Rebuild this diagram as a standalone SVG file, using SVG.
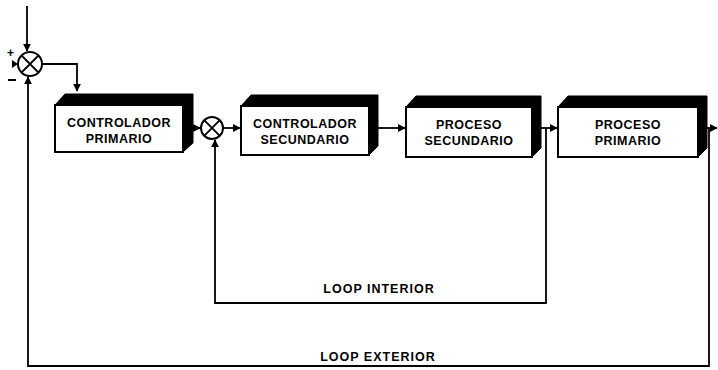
<svg xmlns="http://www.w3.org/2000/svg" width="718" height="370" viewBox="0 0 718 370">
  <style>
    .face { fill: #fff; stroke: #000; stroke-width: 2; }
    .bevel { fill: #000; stroke: #000; stroke-width: 1; stroke-linejoin: round; }
    .lbl { font-family: "Liberation Sans", Arial, sans-serif; font-weight: bold; font-size: 12.5px; letter-spacing: 0.5px; text-anchor: middle; fill: #000; }
    .wire { fill: none; stroke: #000; stroke-width: 1.8; }
    .sum { fill: #fff; stroke: #000; stroke-width: 2; }
    .sign { font-family: "Liberation Sans", Arial, sans-serif; font-weight: bold; font-size: 12px; fill: #000; }
  </style>
  <defs>
    <marker id="arr" viewBox="0 0 10 10" refX="9" refY="5" markerWidth="8" markerHeight="8" markerUnits="userSpaceOnUse" orient="auto">
      <path d="M0,0 L10,5 L0,10 z" fill="#000"/>
    </marker>
  </defs>

  <rect width="718" height="370" fill="#fff"/>

  <!-- summing junctions -->
  <g id="sum-outer">
    <circle class="sum" cx="30" cy="64" r="12"/>
    <path class="wire" d="M21.5,55.5 L38.5,72.5 M38.5,55.5 L21.5,72.5"/>
    <text class="sign" x="7" y="57">+</text>
    <path d="M12,60 L18,64 L12,68 z" fill="#000"/>
    <rect x="8" y="79" width="8" height="2" fill="#000"/>
  </g>
  <g id="sum-inner">
    <circle class="sum" cx="212" cy="128" r="11"/>
    <path class="wire" d="M204.2,120.2 L219.8,135.8 M219.8,120.2 L204.2,135.8"/>
  </g>

  <!-- blocks -->
  <g id="controlador-primario">
    <path class="bevel" d="M55,105 L65,94 L193,94 L193,143 L183,152 L183,105 z"/>
    <rect class="face" x="55" y="105" width="128" height="47"/>
    <text class="lbl" x="119" y="127">CONTROLADOR</text>
    <text class="lbl" x="119" y="143">PRIMARIO</text>
  </g>
  <g id="controlador-secundario">
    <path class="bevel" d="M241,106 L251,95 L378,95 L378,146 L369,155 L369,106 z"/>
    <rect class="face" x="241" y="106" width="128" height="49"/>
    <text class="lbl" x="305" y="128">CONTROLADOR</text>
    <text class="lbl" x="305" y="144">SECUNDARIO</text>
  </g>
  <g id="proceso-secundario">
    <path class="bevel" d="M406,107 L416,96 L541,96 L541,148 L532,157 L532,107 z"/>
    <rect class="face" x="406" y="107" width="126" height="50"/>
    <text class="lbl" x="469" y="129">PROCESO</text>
    <text class="lbl" x="469" y="145">SECUNDARIO</text>
  </g>
  <g id="proceso-primario">
    <path class="bevel" d="M558,107 L568,96 L707,96 L707,148 L698,157 L698,107 z"/>
    <rect class="face" x="558" y="107" width="140" height="50"/>
    <text class="lbl" x="628" y="129">PROCESO</text>
    <text class="lbl" x="628" y="145">PRIMARIO</text>
  </g>

  <!-- connectors -->
  <g id="connectors">
    <path class="wire" d="M27,6 L27,51" marker-end="url(#arr)"/>
    <path class="wire" d="M42,64 L77,64 L77,91" marker-end="url(#arr)"/>
    <path class="wire" d="M193,128 L200,128" marker-end="url(#arr)"/>
    <path class="wire" d="M223,128 L240,128" marker-end="url(#arr)"/>
    <path class="wire" d="M378,128 L405,128" marker-end="url(#arr)"/>
    <path class="wire" d="M541,128 L557,128" marker-end="url(#arr)"/>
    <path class="wire" d="M707,128 L717,128" marker-end="url(#arr)"/>
    <!-- inner loop -->
    <path class="wire" d="M546,128 L546,303 L215,303 L215,140" marker-end="url(#arr)"/>
    <!-- outer loop -->
    <path class="wire" d="M709,128 L709,366 L28,366 L28,77" marker-end="url(#arr)"/>
  </g>

  <g id="loop-labels">
    <text class="lbl" x="379" y="293" style="letter-spacing:1px">LOOP INTERIOR</text>
    <text class="lbl" x="378" y="361" style="letter-spacing:1px">LOOP  EXTERIOR</text>
  </g>
</svg>
